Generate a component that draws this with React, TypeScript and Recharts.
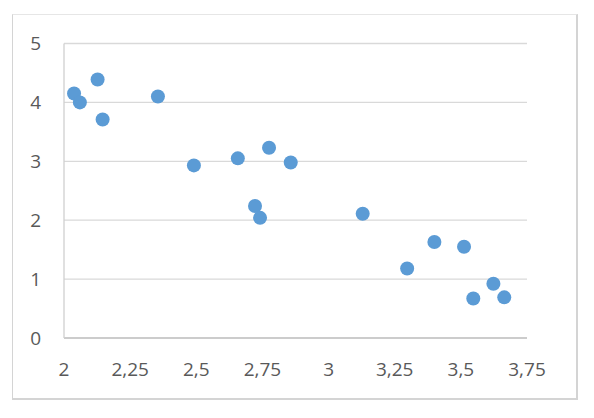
import React from "react";
import { ScatterChart, Scatter, XAxis, YAxis, CartesianGrid } from "recharts";

const xValues = [2.038, 2.06, 2.127, 2.146, 2.355, 2.491, 2.657, 2.775, 2.857, 2.722, 2.741, 3.129, 3.297, 3.4, 3.512, 3.547, 3.623, 3.664];
const yValues = [4.15, 4.0, 4.39, 3.71, 4.1, 2.93, 3.05, 3.23, 2.98, 2.24, 2.04, 2.11, 1.18, 1.63, 1.55, 0.67, 0.92, 0.69];
const xTicks = [2, 2.25, 2.5, 2.75, 3, 3.25, 3.5, 3.75];
const yTicks = [0, 1, 2, 3, 4, 5];

const data = xValues.map((x, i) => ({ x, y: yValues[i] }));

const tickStyle = { fontFamily: "'Open Sans', sans-serif", fontSize: 19, fill: "#595959" };

const Dot = (props: any) => {
  const { cx, cy } = props;
  if (cx == null || cy == null) return null;
  return <circle cx={cx} cy={cy} r={7} fill="#5B9BD5" />;
};

export default function App() {
  return (
    <div style={{ position: "relative", width: 578, height: 400 }}>
      <div
        style={{
          position: "absolute",
          left: 4,
          top: 6,
          width: 566,
          height: 386,
          boxSizing: "border-box",
          borderTop: "1px solid #e6e6e6",
          borderLeft: "1.5px solid #d4d4d4",
          borderRight: "2px solid #d4d4d4",
          borderBottom: "2px solid #d4d4d4",
        }}
      />
      <ScatterChart
        width={578}
        height={400}
        margin={{ top: 35.5, right: 59, bottom: 40, left: 0 }}
        style={{ position: "absolute", left: 0, top: 0 }}
      >
        <CartesianGrid horizontal vertical={false} stroke="#d9d9d9" strokeWidth={1.3} />
        <XAxis
          type="number"
          dataKey="x"
          domain={[2, 3.75]}
          ticks={xTicks}
          interval={0}
          allowDataOverflow
          height={30}
          tickSize={0}
          tickMargin={25}
          tickLine={false}
          axisLine={{ stroke: "#c4c4c4", strokeWidth: 1.3 }}
          tick={tickStyle}
          tickFormatter={(v: number) => String(v).replace(".", ",")}
        />
        <YAxis
          type="number"
          dataKey="y"
          domain={[0, 5]}
          ticks={yTicks}
          interval={0}
          width={56}
          tickSize={0}
          tickMargin={23}
          tickLine={false}
          axisLine={{ stroke: "#d0d0d0", strokeWidth: 1.3 }}
          tick={tickStyle}
        />
        <Scatter data={data} shape={Dot} isAnimationActive={false} />
      </ScatterChart>
    </div>
  );
}
